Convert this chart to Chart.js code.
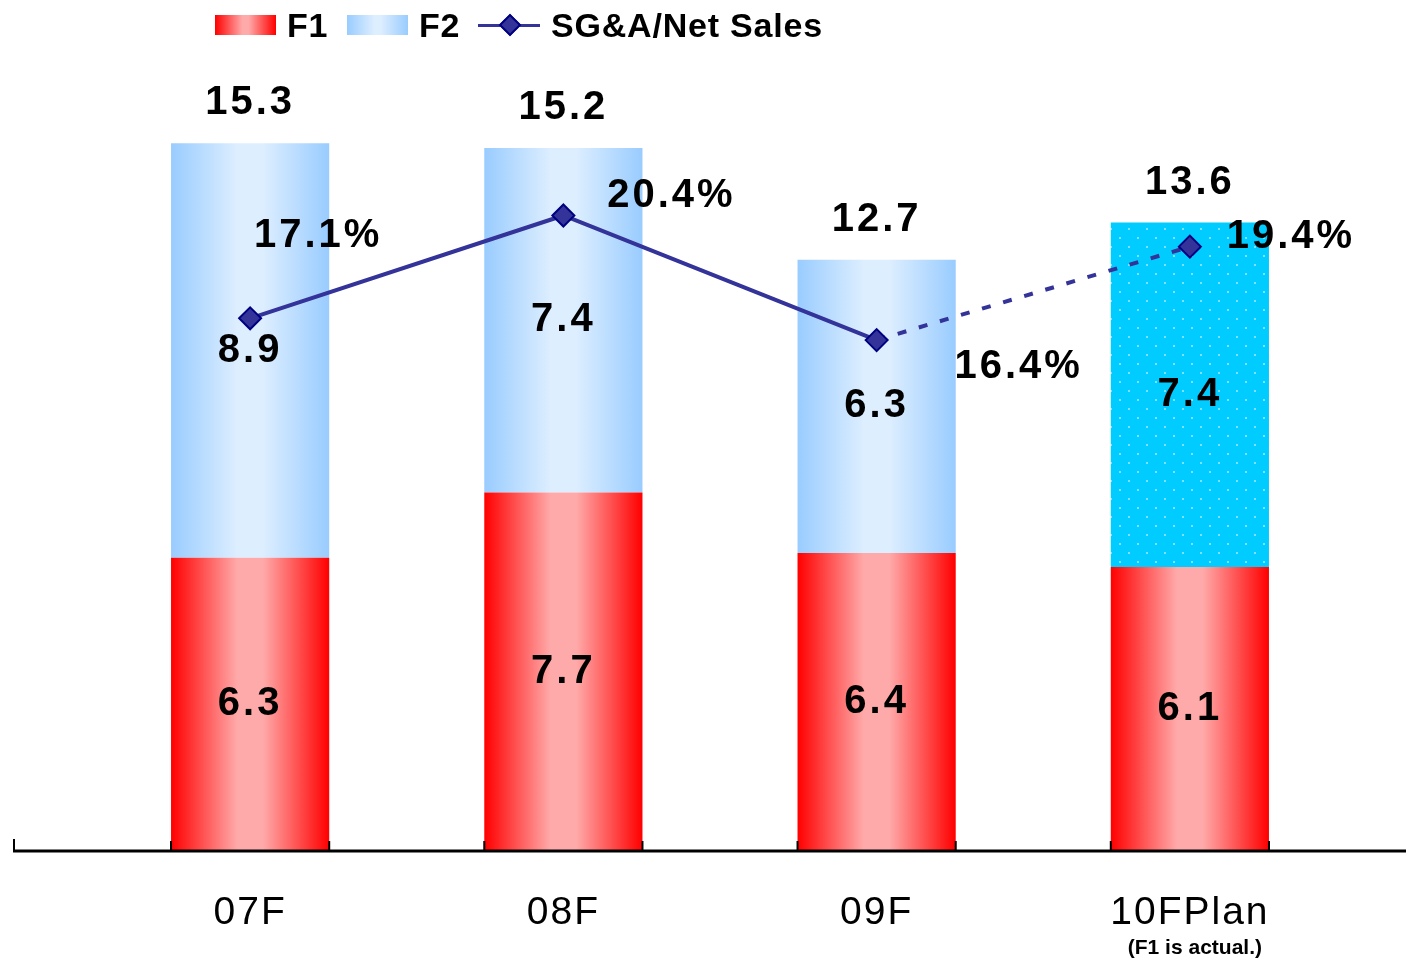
<!DOCTYPE html>
<html>
<head>
<meta charset="utf-8">
<script src="https://cdn.jsdelivr.net/npm/chart.js@4"></script>
<style>
  body { margin: 0; background: #fff; font-family: "Liberation Sans", Arial, sans-serif; }
  #wrap { position: relative; width: 1406px; height: 960px; }
  #legend { position: absolute; left: 0; top: 0; width: 1406px; height: 50px; }
  #legend .sw { position: absolute; top: 15px; width: 61px; height: 20px; }
  #legend .tx { position: absolute; top: 6px; font-weight: bold; font-size: 34px; line-height: 38px; color: #000; letter-spacing: 0.8px; }
</style>
</head>
<body>
<div id="wrap">
  <canvas id="chart"></canvas>
  <div id="legend">
    <div class="sw" style="left:215px;background:linear-gradient(90deg,#ff0000,#ffaaaa 45%,#ffaaaa 55%,#ff0000)"></div>
    <div class="tx" style="left:287px">F1</div>
    <div class="sw" style="left:347px;background:linear-gradient(90deg,#99ccff,#ddeeff 45%,#ddeeff 55%,#99ccff)"></div>
    <div class="tx" style="left:419px">F2</div>
    <div style="position:absolute;left:478px;top:24px;width:62px;height:3px;background:#333399"></div>
    <div style="position:absolute;left:502px;top:17px;width:12px;height:12px;background:#333399;border:2px solid #000080;transform:rotate(45deg)"></div>
    <div class="tx" style="left:551px">SG&amp;A/Net Sales</div>
  </div>
</div>
<script>
const categories = ["07F", "08F", "09F", "10FPlan"];
const f1Values = [6.3, 7.7, 6.4, 6.1];
const f2Values = [8.9, 7.4, 6.3, 7.4];
const totalLabels = [15.3, 15.2, 12.7, 13.6];
const sgaRatio = [17.1, 20.4, 16.4, 19.4];

const FONT = '"Liberation Sans", Arial, sans-serif';
Chart.defaults.font.family = FONT;

// dotted fill for the plan bar
function dotPattern() {
  const c = document.createElement("canvas");
  c.width = 18;
  c.height = 18;
  const g = c.getContext("2d");
  g.fillStyle = "#00ccff";
  g.fillRect(0, 0, 18, 18);
  g.fillStyle = "#80e0ff";
  g.fillRect(3, 3, 2, 2);
  g.fillRect(12, 12, 2, 2);
  return g.createPattern(c, "repeat");
}
let pattern = null;

function barGradient(ctx, edge, mid) {
  const chart = ctx.chart;
  if (!chart.chartArea) return edge;
  const cx = chart.scales.x.getPixelForValue(ctx.dataIndex);
  const half = 79;
  const g = chart.ctx.createLinearGradient(cx - half, 0, cx + half, 0);
  g.addColorStop(0, edge);
  g.addColorStop(0.42, mid);
  g.addColorStop(0.58, mid);
  g.addColorStop(1, edge);
  return g;
}

const labelPlugin = {
  id: "valueLabels",
  beforeDraw(chart) {
    chart.ctx.letterSpacing = "2px";
  },
  afterDatasetsDraw(chart) {
    const ctx = chart.ctx;
    const f1Meta = chart.getDatasetMeta(0);
    const f2Meta = chart.getDatasetMeta(1);
    const lineMeta = chart.getDatasetMeta(2);
    ctx.save();
    ctx.fillStyle = "#000";
    ctx.textAlign = "center";
    ctx.textBaseline = "middle";
    ctx.font = "bold 40px " + FONT;
    ctx.letterSpacing = "3px";
    f1Meta.data.forEach((el, i) => {
      ctx.fillText(f1Values[i].toFixed(1), el.x, (el.y + el.base) / 2);
    });
    f2Meta.data.forEach((el, i) => {
      ctx.fillText(f2Values[i].toFixed(1), el.x, (el.y + el.base) / 2);
      ctx.fillText(totalLabels[i].toFixed(1), el.x, el.y - 40);
    });
    const offsets = [[68, -82], [108, -20], [142, 27], [101, -10]];
    lineMeta.data.forEach((pt, i) => {
      ctx.fillText(sgaRatio[i].toFixed(1) + "%", pt.x + offsets[i][0], pt.y + offsets[i][1]);
    });
    ctx.restore();
  },
  afterDraw(chart) {
    const ctx = chart.ctx;
    const y = chart.chartArea.bottom;
    ctx.save();
    ctx.letterSpacing = "0px";
    ctx.strokeStyle = "#000";
    ctx.lineWidth = 3;
    ctx.beginPath();
    ctx.moveTo(13, y);
    ctx.lineTo(1406, y);
    ctx.stroke();
    ctx.lineWidth = 2;
    ctx.beginPath();
    ctx.moveTo(14, y);
    ctx.lineTo(14, y - 12);
    chart.getDatasetMeta(0).data.forEach(el => {
      ctx.moveTo(el.x - el.width / 2, y);
      ctx.lineTo(el.x - el.width / 2, y - 10);
      ctx.moveTo(el.x + el.width / 2, y);
      ctx.lineTo(el.x + el.width / 2, y - 10);
    });
    ctx.stroke();
    // note under the plan category
    ctx.fillStyle = "#000";
    ctx.textAlign = "center";
    ctx.textBaseline = "middle";
    ctx.font = "bold 21px " + FONT;
    ctx.fillText("(F1 is actual.)", chart.scales.x.getPixelForValue(3) + 5, 948);
    ctx.restore();
  }
};

new Chart(document.getElementById("chart"), {
  type: "bar",
  data: {
    labels: categories,
    datasets: [
      {
        label: "F1",
        data: f1Values,
        backgroundColor: ctx => barGradient(ctx, "#ff0000", "#ffaaaa"),
        categoryPercentage: 1,
        barPercentage: 0.505,
        stack: "s",
        order: 2
      },
      {
        label: "F2",
        data: f2Values,
        backgroundColor: ctx => {
          if (ctx.dataIndex === 3) {
            if (!pattern) pattern = dotPattern();
            return pattern;
          }
          return barGradient(ctx, "#99ccff", "#ddeeff");
        },
        categoryPercentage: 1,
        barPercentage: 0.505,
        stack: "s",
        order: 2
      },
      {
        type: "line",
        label: "SG&A/Net Sales",
        data: sgaRatio,
        yAxisID: "y1",
        borderColor: "#333399",
        borderWidth: 4,
        pointStyle: "rectRot",
        pointRadius: 11,
        pointBackgroundColor: "#333399",
        pointBorderColor: "#000080",
        pointBorderWidth: 2,
        segment: {
          borderDash: ctx => ctx.p0DataIndex === 2 ? [9, 13] : undefined
        },
        order: 1
      }
    ]
  },
  options: {
    responsive: true,
    maintainAspectRatio: false,
    animation: false,
    layout: { padding: { left: 93.5, right: 59.5, top: 11, bottom: 0 } },
    plugins: {
      legend: { display: false },
      tooltip: { enabled: false }
    },
    scales: {
      x: {
        stacked: true,
        grid: { display: false, drawTicks: false },
        border: { display: false },
        ticks: {
          color: "#000",
          font: { size: 39, lineHeight: 1.2 },
          padding: 39
        },
        afterFit(scale) {
          scale.height = 109;
        }
      },
      y: {
        stacked: true,
        display: false,
        min: 0,
        max: 18
      },
      y1: {
        display: false,
        min: 0,
        max: 26.9
      }
    }
  },
  plugins: [labelPlugin]
});
</script>
</body>
</html>
